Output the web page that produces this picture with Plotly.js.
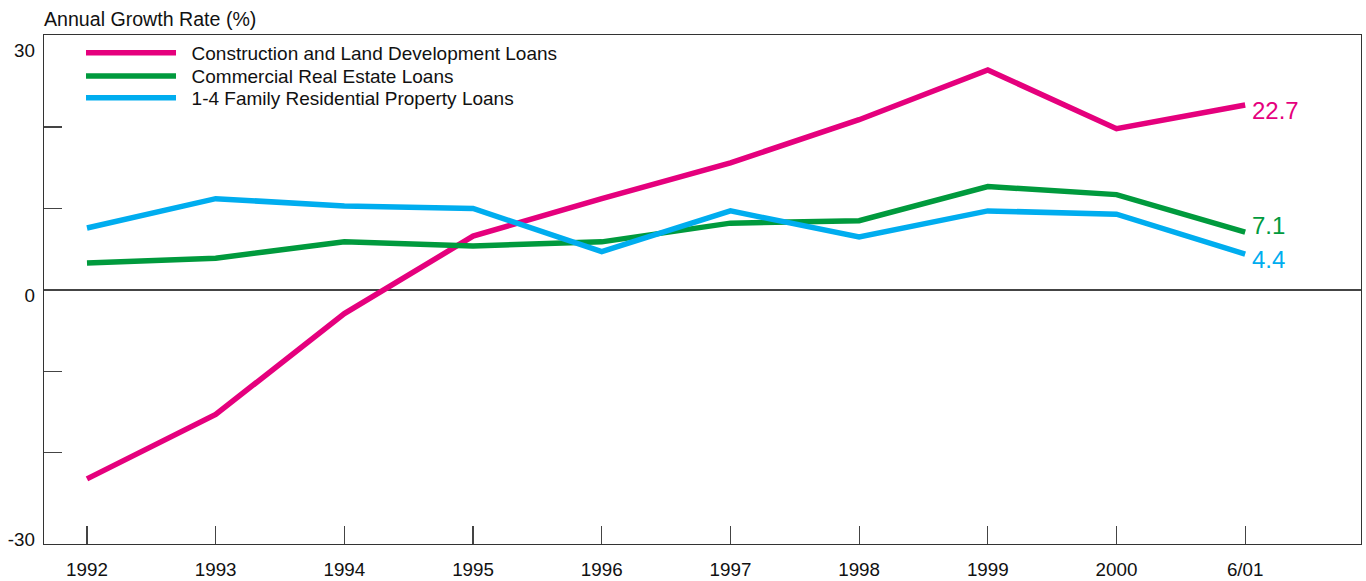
<!DOCTYPE html>
<html>
<head>
<meta charset="utf-8">
<script src="https://cdn.plot.ly/plotly-3.0.1.min.js"></script>
<style>html,body{margin:0;padding:0;background:#fff;}#chart{width:1366px;height:581px;}</style>
</head>
<body>
<div id="chart"></div>
<script>
const categories = ["1992","1993","1994","1995","1996","1997","1998","1999","2000","6/01"];
const construction = [-23.2, -15.3, -2.9, 6.6, 11.2, 15.6, 20.9, 27.0, 19.8, 22.7];
const commercial   = [3.3, 3.9, 5.9, 5.4, 5.9, 8.2, 8.5, 12.7, 11.7, 7.1];
const residential  = [7.6, 11.2, 10.3, 10.0, 4.7, 9.7, 6.5, 9.7, 9.3, 4.4];
const seriesNames = ["Construction and Land Development Loans","Commercial Real Estate Loans","1-4 Family Residential Property Loans"];
const endLabels = ["22.7","7.1","4.4"];
const yLabelVals = [-30, 0, 30];
const yTickVals = [-20, -10, 0, 10, 20];

const colors = ["#e5007d", "#009a3d", "#00adef"];
const labelShift = [-5, 7, -5];
const legendIds = ["legend", "legend2", "legend3"];
const legendY = [0.9646, 0.9194, 0.8762];
const xIdx = categories.map((_, i) => i);
const allSeries = [construction, commercial, residential];

const font = "Liberation Sans, Arial, sans-serif";
const traces = allSeries.map((s, k) => ({
  x: xIdx, y: s, type: "scatter", mode: "lines", name: "\u00a0\u00a0" + seriesNames[k],
  legend: legendIds[k],
  line: {color: colors[k], width: 5.5}, hoverinfo: "skip"
}));
traces.push({x: xIdx, y: yTickVals.map(()=>null), yaxis: "y2", type: "scatter", mode: "lines", showlegend: false, hoverinfo: "skip"});

const last = categories.length - 1;
const annotations = allSeries.map((s, k) => ({
  x: last, y: s[last], xref: "x", yref: "y", text: endLabels[k], showarrow: false,
  xanchor: "left", yanchor: "middle", xshift: 5, yshift: labelShift[k],
  font: {family: font, size: 24, color: colors[k]}
}));
annotations.push({
  x: 0, y: 1, xref: "paper", yref: "paper", xanchor: "left", yanchor: "bottom", yshift: 3, xshift: -2,
  text: "Annual Growth Rate (%)", showarrow: false, font: {family: font, size: 19.6, color: "#111"}
});

const yr = [-31.2, 31.3];
const layout = {
  width: 1366, height: 581,
  margin: {l: 44, r: 5, t: 35, b: 37},
  paper_bgcolor: "#fff", plot_bgcolor: "#fff",
  font: {family: font, size: 18.8, color: "#111"},
  showlegend: true,
  xaxis: {range: [-0.334, 9.9], tickvals: xIdx, ticktext: categories, ticks: "inside", ticklen: 18,
          tickcolor: "#444", tickwidth: 1.2, showgrid: false, zeroline: false,
          showline: true, linecolor: "#333", linewidth: 1.3, mirror: true, ticklabelstandoff: 8},
  yaxis: {range: yr, tickvals: yLabelVals, ticktext: yLabelVals.map(String), ticks: "", showgrid: false,
          zeroline: true, zerolinecolor: "#444", zerolinewidth: 1.2,
          showline: true, linecolor: "#333", linewidth: 1.3, mirror: true, ticklabelshift: 5, ticklabelstandoff: 4},
  yaxis2: {range: yr, overlaying: "y", side: "left", tickvals: yTickVals, ticks: "inside", ticklen: 18,
           tickcolor: "#444", tickwidth: 1.2, showticklabels: false, showgrid: false, zeroline: false, showline: false},
  annotations: annotations
};
legendIds.forEach((id, k) => {
  layout[id] = {x: 0.0281, y: legendY[k], xanchor: "left", yanchor: "middle", bgcolor: "rgba(0,0,0,0)",
                font: {family: font, size: 19, color: "#111"}, itemwidth: 90, borderwidth: 0};
});
Plotly.newPlot("chart", traces, layout, {staticPlot: true, displayModeBar: false});
</script>
</body>
</html>
